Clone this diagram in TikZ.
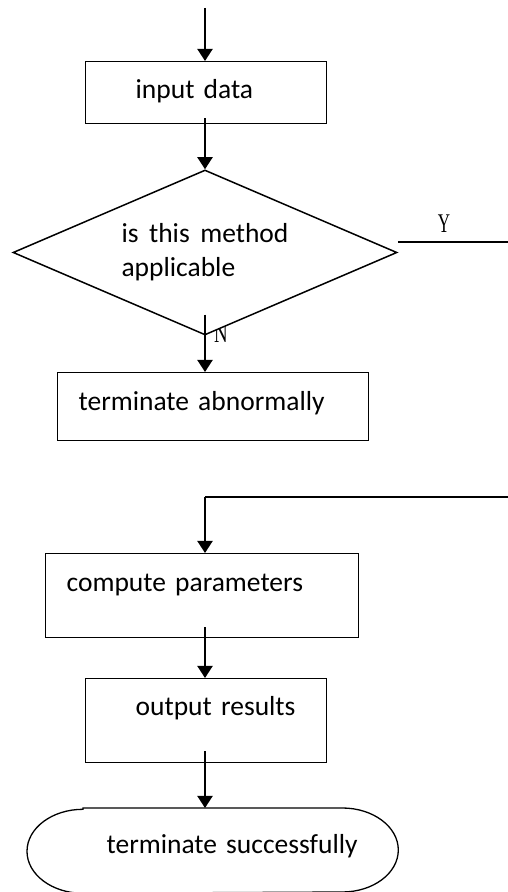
\documentclass[tikz,border=0pt]{standalone}
\usepackage{fontspec}
\setmainfont{Carlito}
\newfontfamily\simfont{Liberation Serif}
\usetikzlibrary{arrows.meta,shapes.geometric}

\tikzset{
  process/.style={draw, line width=1.3pt, inner sep=0pt, align=left, anchor=north west,
    font=\fontsize{27.5}{34}\selectfont},
  terminal/.style={process, draw=none},
  outline/.style={line width=1.3pt},
  decision/.style={diamond, draw, line width=1.5pt, fill=white, inner sep=0pt, aspect=2.33,
    minimum width=384pt, minimum height=165pt, align=left, font=\fontsize{27.5}{34}\selectfont},
  flow/.style={line width=1.5pt},
  flowarrow/.style={line width=2pt, -{Triangle[width=15pt,length=12pt]}},
  yn/.style={font=\simfont\fontsize{27}{27}\selectfont, inner sep=0pt, anchor=base}
}

\begin{document}
\begin{tikzpicture}[x=1pt,y=1pt]
\useasboundingbox (0,0) rectangle (508,892);

\node[process, text width=241pt, text height=37pt, text depth=25pt] (input) at (85,831) {\hspace*{50pt}input data};

% N sits behind the diamond
\node[yn] (nlab) at (221,549) {\scalebox{0.7}[1]{N}};
\node[decision] (test) at (205,639.5) {is\hspace{10.5pt}this\hspace{10.5pt}method\\applicable};
\node[yn] (ylab) at (444,659) {\scalebox{0.63}[1]{Y}};
\coordinate (yend) at (508,650);
\coordinate (start) at ([yshift=53pt]test.north |- input.north);

\node[process, text width=311pt, text height=38pt, text depth=30pt] (abnormal) at (57,520) {\hspace*{21pt}terminate abnormally};

\coordinate (loopin) at (508,395);
\coordinate (loopturn) at (loopin -| test.south);

\node[process, text width=313pt, text height=38pt, text depth=46pt] (compute) at (45,339) {\hspace*{21pt}compute parameters};
\node[process, text width=241pt, text height=37pt, text depth=47pt] (output) at (85,214) {\hspace*{50pt}output results};
\node[terminal, text width=370pt, text height=45pt, text depth=39pt] (success) at (27,84) {\hspace*{79pt}terminate successfully};
\draw[outline] ([xshift=56pt]success.north west) -- ([xshift=-56pt]success.north east)
  arc[start angle=90, end angle=-90, x radius=56pt, y radius=42pt]
  -- ([xshift=56pt]success.south west)
  arc[start angle=270, end angle=90, x radius=56pt, y radius=42pt] -- cycle;

% connectors
\draw[flowarrow] (start) -- (start |- input.north);
\draw[flowarrow] ([yshift=6pt]test.north |- input.south) -- (test.north);
\draw[flow] ([yshift=10.5pt]test.east) -- (yend);
\draw[flowarrow] ([yshift=21pt]test.south) -- (test.south |- abnormal.north);
\draw[flow] (loopin) -- (loopturn);
\draw[flowarrow] (loopturn) -- (loopturn |- compute.north);
\draw[flowarrow] ([yshift=11pt]loopturn |- compute.south) -- (loopturn |- output.north);
\draw[flowarrow] ([yshift=12pt]loopturn |- output.south) -- (loopturn |- success.north);
\end{tikzpicture}
\end{document}
